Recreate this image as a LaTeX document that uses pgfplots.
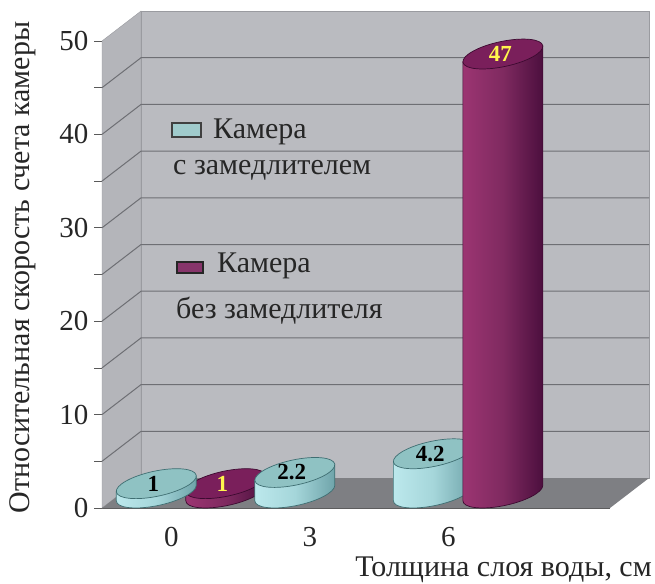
\documentclass[border=0pt]{standalone}
\usepackage{pgfplots}
\pgfplotsset{compat=1.18}
\usepackage{fontspec}
\setmainfont{Liberation Serif}
\definecolor{wallc}{HTML}{BABBC0}
\definecolor{sidec}{HTML}{B4B5BA}
\definecolor{floorc}{HTML}{7E7F83}
\definecolor{gridc}{HTML}{6E6F74}
\definecolor{edgec}{HTML}{9A9BA0}
\definecolor{tealline}{HTML}{3F6E72}
\definecolor{teall}{HTML}{BCE8EC}
\definecolor{tealm}{HTML}{A5D6DA}
\definecolor{tealr}{HTML}{6FA4AA}
\definecolor{tealt}{HTML}{8FC2C3}
\definecolor{marline}{HTML}{3C0A30}
\definecolor{marl}{HTML}{9C3572}
\definecolor{marm}{HTML}{7F2A60}
\definecolor{marr}{HTML}{4C0F3E}
\definecolor{mart}{HTML}{7A1F5B}
\pgfdeclarehorizontalshading{tealS}{100bp}{color(0bp)=(teall); color(25bp)=(teall); color(50bp)=(tealm); color(75bp)=(tealr); color(100bp)=(tealr)}
\pgfdeclarehorizontalshading{marS}{100bp}{color(0bp)=(marl); color(25bp)=(marl); color(50bp)=(marm); color(75bp)=(marr); color(100bp)=(marr)}
\newcommand\pxf{\fontsize{30}{34}\selectfont}
\newcommand\tkf{\fontsize{29}{33}\selectfont}
% #1 name, #2 x offset of the column in the depth plane, #3 line, #4 shading, #5 top colour
\newcommand\cyl[5]{%
 \pgfdeclareplotmark{#1}{%
  \pgfmathsetlengthmacro\cylH{\val*9.34pt}%
  \pgfsetlinewidth{.7pt}%
  \pgfsetstrokecolor{#3}%
  \pgfpathmoveto{\pgfpoint{#2pt-40pt}{15pt-7.66pt}}%
  \pgfpathlineto{\pgfpoint{#2pt-40pt}{15pt-7.66pt-\cylH}}%
  \pgfpatharcaxes{176.24}{356.24}{\pgfpoint{39.91pt}{8.48pt}}{\pgfpoint{-2.62pt}{12.32pt}}%
  \pgfpathlineto{\pgfpoint{#2pt+40pt}{15pt+7.66pt}}%
  \pgfpathclose
  \pgfshadepath{#4}{0}%
  \pgfusepath{stroke}%
  \pgfsetfillcolor{#5}%
  \pgfpathellipse{\pgfpoint{#2pt}{15pt}}{\pgfpoint{39.91pt}{8.48pt}}{\pgfpoint{-2.62pt}{12.32pt}}%
  \pgfusepath{fill,stroke}}}
\cyl{cylT}{-15}{tealline}{tealS}{tealt}
\cyl{cylM}{54.5}{marline}{marS}{mart}
\pgfplotstableread{
x y
0 1
3 2.2
6 4.2
}\withmod
\pgfplotstableread{
x y
0 1
}\nomodA
\pgfplotstableread{
x y
6 47
}\nomodB
\begin{document}
\begin{tikzpicture}[x=1pt,y=1pt]
\useasboundingbox (0,0) rectangle (655,583);
\begin{axis}[
  anchor=south west, at={(102pt,75pt)},
  scale only axis, width=508pt, height=467pt,
  xmin=-1.5, xmax=9.5, ymin=0, ymax=50,
  clip=false,
  axis x line*=bottom, axis y line*=left,
  axis line style={color=black!65, line width=.9pt},
  /pgf/number format/assume math mode=true,
  ytick={0,5,...,50},
  yticklabels={0,,10,,20,,30,,40,,50},
  xtick={0,3,6},
  xticklabels={0,3,6},
  extra x ticks={-1.5,1.5,4.5,7.5},
  extra x tick labels={},
  extra x tick style={major tick length=8pt, tick style={color=black!65,line width=.7pt}},
  major tick length=8pt,
  ytick style={color=black!65, line width=.7pt},
  xtick style={draw=none},
  tick align=outside,
  tick label style={font=\tkf, color=black!85},
  y tick label style={xshift=-2pt},
  x tick label style={inner sep=0pt, yshift=-11pt},
  xlabel={Толщина слоя воды, см},
  ylabel={Относительная скорость счета камеры},
  label style={font=\pxf, color=black!85},
  x label style={at={(rel axis cs:1.0827,-0.1325)}, anchor=east, inner sep=0pt},
  y label style={at={(rel axis cs:-0.155,0.515)}, anchor=center},
  cylS/.style={only marks, scatter, forget plot, nodes near coords,
   visualization depends on={rawy \as \val},
   every node near coord/.append style={anchor=center, yshift=15pt, font=\fontsize{23}{25}\selectfont\bfseries}},
  wall/.style={no marks, forget plot},
]
% walls and floor
\addplot[wall, fill=sidec, draw=edgec] coordinates {(-1.5,0) (-0.655,3.21) (-0.655,53.21) (-1.5,50)} -- cycle;
\addplot[wall, fill=wallc, draw=edgec] coordinates {(-0.655,3.21) (10.345,3.21) (10.345,53.21) (-0.655,53.21)} -- cycle;
\addplot[wall, fill=floorc, draw=none] coordinates {(-1.5,0) (-0.655,3.21) (10.345,3.21) (9.5,0)} -- cycle;
% grid
\addplot[wall, draw=gridc, line width=1pt] coordinates {(-1.5,5) (-0.655,8.21) (10.345,8.21)};
\addplot[wall, draw=gridc, line width=1pt] coordinates {(-1.5,10) (-0.655,13.21) (10.345,13.21)};
\addplot[wall, draw=gridc, line width=1pt] coordinates {(-1.5,15) (-0.655,18.21) (10.345,18.21)};
\addplot[wall, draw=gridc, line width=1pt] coordinates {(-1.5,20) (-0.655,23.21) (10.345,23.21)};
\addplot[wall, draw=gridc, line width=1pt] coordinates {(-1.5,25) (-0.655,28.21) (10.345,28.21)};
\addplot[wall, draw=gridc, line width=1pt] coordinates {(-1.5,30) (-0.655,33.21) (10.345,33.21)};
\addplot[wall, draw=gridc, line width=1pt] coordinates {(-1.5,35) (-0.655,38.21) (10.345,38.21)};
\addplot[wall, draw=gridc, line width=1pt] coordinates {(-1.5,40) (-0.655,43.21) (10.345,43.21)};
\addplot[wall, draw=gridc, line width=1pt] coordinates {(-1.5,45) (-0.655,48.21) (10.345,48.21)};
% cylinders
\addplot[cylS, mark=cylM, every node near coord/.append style={text=yellow!70!white, xshift=51pt}] table {\nomodA};
\addplot[cylS, mark=cylT, every node near coord/.append style={text=black, xshift=-18pt}] table {\withmod};
\addplot[cylS, mark=cylM, every node near coord/.append style={text=yellow!70!white, xshift=52pt}] table {\nomodB};
\end{axis}
% legend
\path[draw=black!75, line width=1.1pt, fill=tealt!85!white] (172,583-123) rectangle (201,583-137);
\node[anchor=west, inner sep=0pt, font=\pxf, color=black!85] at (213,583-132) {Камера};
\node[anchor=west, inner sep=0pt, font=\pxf, color=black!85] at (173,583-170) {с замедлителем};
\path[draw=black!85, line width=1.1pt, fill=mart!90!white] (177,583-262) rectangle (203,583-273);
\node[anchor=west, inner sep=0pt, font=\pxf, color=black!85] at (217,583-266) {Камера};
\node[anchor=west, inner sep=0pt, font=\pxf, color=black!85] at (176,583-311) {без замедлителя};
\end{tikzpicture}
\end{document}
